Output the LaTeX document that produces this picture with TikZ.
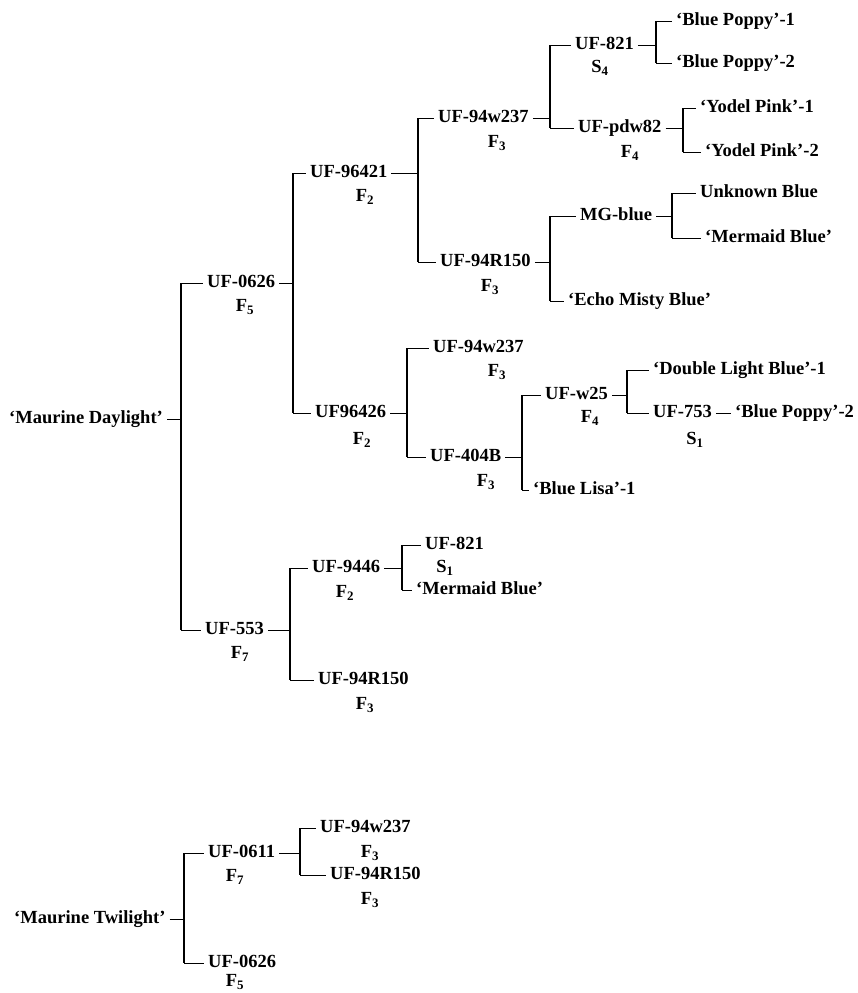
\documentclass[tikz,border=0pt]{standalone}
\usepackage{fontspec}
\setmainfont{Liberation Serif}
\begin{document}
\begin{tikzpicture}[x=1pt,y=-1pt,
  lbl/.style={font=\fontsize{18.5}{20}\selectfont\bfseries, inner xsep=4pt, inner ysep=0pt,
    text height=13pt, text depth=4pt, anchor=west, xshift=-4pt},
  gen/.style={font=\fontsize{18.5}{20}\selectfont\bfseries, inner sep=0pt},
  vl/.style={line width=1.6pt},
  hl/.style={line width=0.9pt}]
\useasboundingbox (0,0) rectangle (857,993);
\newcommand{\fork}[4]{%
  \draw[hl] (#1.east) -- (#2);
  \draw[vl] (#2 |- #3.west) -- (#2 |- #4.west);
  \draw[hl] (#2 |- #3.west) -- (#3.west);
  \draw[hl] (#2 |- #4.west) -- (#4.west);}
% ---------- Tree 1
\node[lbl] (R1) at (9,419) {‘Maurine Daylight’};
\node[lbl] (A) at (207,283) {UF-0626};
\node[gen] (Ag) at (245,307) {F\textsubscript{5}};
\node[lbl] (B) at (310,173) {UF-96421};
\node[gen] (Bg) at (365,197) {F\textsubscript{2}};
\node[lbl] (C) at (438,118) {UF-94w237};
\node[gen] (Cg) at (497,143) {F\textsubscript{3}};
\node[lbl] (D) at (575,45) {UF-821};
\node[gen] (Dg) at (600,68) {S\textsubscript{4}};
\node[lbl] (D1) at (676,21) {‘Blue Poppy’-1};
\node[lbl] (D2) at (676,63) {‘Blue Poppy’-2};
\node[lbl] (E) at (578,128) {UF-pdw82};
\node[gen] (Eg) at (630,153) {F\textsubscript{4}};
\node[lbl] (E1) at (700,108) {‘Yodel Pink’-1};
\node[lbl] (E2) at (705,152) {‘Yodel Pink’-2};
\node[lbl] (G) at (440,262) {UF-94R150};
\node[gen] (Gg) at (490,287) {F\textsubscript{3}};
\node[lbl] (H) at (580,216) {MG-blue};
\node[lbl] (H1) at (700,193) {Unknown Blue};
\node[lbl] (H2) at (705,238) {‘Mermaid Blue’};
\node[lbl] (I) at (568,301) {‘Echo Misty Blue’};
\node[lbl] (K) at (315,413) {UF96426};
\node[gen] (Kg) at (362,440) {F\textsubscript{2}};
\node[lbl] (L) at (433,348) {UF-94w237};
\node[gen] (Lg) at (497,372) {F\textsubscript{3}};
\node[lbl] (M) at (430,457) {UF-404B};
\node[gen] (Mg) at (486,482) {F\textsubscript{3}};
\node[lbl] (N) at (545,395) {UF-w25};
\node[gen] (Ng) at (590,418) {F\textsubscript{4}};
\node[lbl] (N1) at (653,370) {‘Double Light Blue’-1};
\node[lbl] (O) at (653,413) {UF-753};
\node[gen] (Og) at (695,440) {S\textsubscript{1}};
\node[lbl] (O1) at (735,413) {‘Blue Poppy’-2};
\node[lbl] (P) at (533,490) {‘Blue Lisa’-1};
\node[lbl] (Q) at (205,630) {UF-553};
\node[gen] (Qg) at (240,654) {F\textsubscript{7}};
\node[lbl] (S) at (312,568) {UF-9446};
\node[gen] (Sg) at (345,593) {F\textsubscript{2}};
\node[lbl] (S1) at (425,545) {UF-821};
\node[gen] (S1g) at (445,568) {S\textsubscript{1}};
\node[lbl] (S2) at (416,590) {‘Mermaid Blue’};
\node[lbl] (T) at (318,680) {UF-94R150};
\node[gen] (Tg) at (365,705) {F\textsubscript{3}};
\coordinate (jR1) at (181,419);
\coordinate (jA) at (293,283);
\coordinate (jB) at (418,173);
\coordinate (jC) at (550,118);
\coordinate (jD) at (656,45);
\coordinate (jE) at (683,128);
\coordinate (jG) at (550,262);
\coordinate (jH) at (672,216);
\coordinate (jK) at (407,413);
\coordinate (jM) at (522,457);
\coordinate (jN) at (627,395);
\coordinate (jQ) at (290,630);
\coordinate (jS) at (402,568);
\fork{R1}{jR1}{A}{Q}
\fork{A}{jA}{B}{K}
\fork{B}{jB}{C}{G}
\fork{C}{jC}{D}{E}
\fork{D}{jD}{D1}{D2}
\fork{E}{jE}{E1}{E2}
\fork{G}{jG}{H}{I}
\fork{H}{jH}{H1}{H2}
\fork{K}{jK}{L}{M}
\fork{M}{jM}{N}{P}
\fork{N}{jN}{N1}{O}
\draw[hl] (O.east) -- (O1.west);
\fork{Q}{jQ}{S}{T}
\fork{S}{jS}{S1}{S2}
% ---------- Tree 2
\node[lbl] (R2) at (14,919) {‘Maurine Twilight’};
\node[lbl] (U) at (208,853) {UF-0611};
\node[gen] (Ug) at (235,877) {F\textsubscript{7}};
\node[lbl] (U1) at (320,828) {UF-94w237};
\node[gen] (U1g) at (370,853) {F\textsubscript{3}};
\node[lbl] (U2) at (330,875) {UF-94R150};
\node[gen] (U2g) at (370,900) {F\textsubscript{3}};
\node[lbl] (V) at (208,963) {UF-0626};
\node[gen] (Vg) at (235,982) {F\textsubscript{5}};
\coordinate (jR2) at (184,919);
\coordinate (jU) at (300,853);
\fork{R2}{jR2}{U}{V}
\fork{U}{jU}{U1}{U2}
\end{tikzpicture}
\end{document}
